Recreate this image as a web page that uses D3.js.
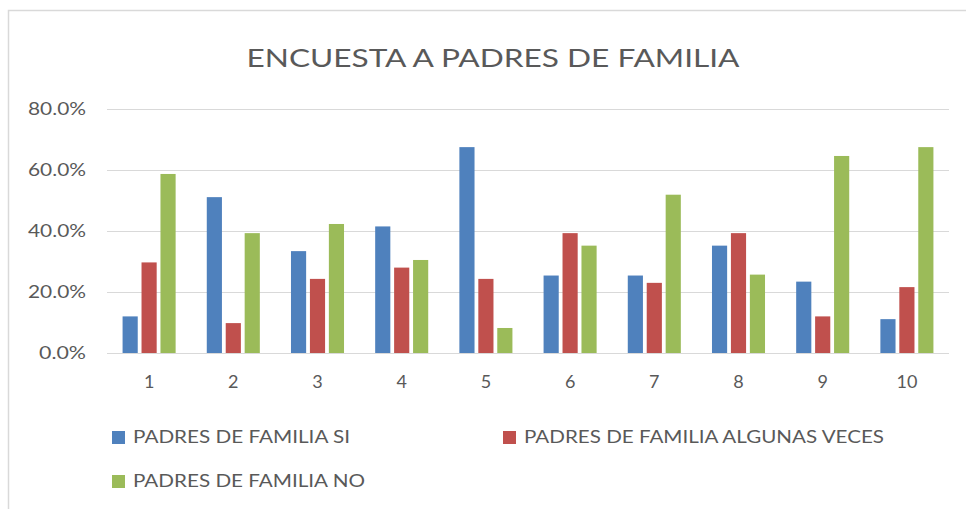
<!DOCTYPE html>
<html>
<head>
<meta charset="utf-8">
<script src="https://cdn.jsdelivr.net/npm/d3@7"></script>
<style>
  html, body { margin: 0; padding: 0; background: #fff; }
  svg { display: block; font-family: Lato, "Open Sans", sans-serif; }
</style>
</head>
<body>
<svg id="chart" width="966" height="509"></svg>
<script>
const categories = ["1", "2", "3", "4", "5", "6", "7", "8", "9", "10"];
const seriesNames = ["PADRES DE FAMILIA SI", "PADRES DE FAMILIA ALGUNAS VECES", "PADRES DE FAMILIA NO"];
const siValues      = [0.120, 0.511, 0.334, 0.415, 0.675, 0.254, 0.254, 0.352, 0.234, 0.111];
const algunasValues = [0.297, 0.098, 0.243, 0.280, 0.243, 0.393, 0.230, 0.393, 0.120, 0.216];
const noValues      = [0.587, 0.393, 0.423, 0.305, 0.082, 0.352, 0.519, 0.257, 0.646, 0.675];
const yTicks = [0, 0.2, 0.4, 0.6, 0.8];
const colors = ["#4F81BD", "#C0504D", "#9BBB59"];
const title = "ENCUESTA A PADRES DE FAMILIA";

const seriesValues = [siValues, algunasValues, noValues];
const svg = d3.select("#chart");

// chart frame
svg.append("rect")
  .attr("x", 8.5).attr("y", 10.5)
  .attr("width", 1000).attr("height", 600)
  .attr("fill", "none").attr("stroke", "#D9D9D9").attr("stroke-width", 1.5);

const plot = { left: 107, right: 949, top: 109, bottom: 353 };

const x = d3.scaleBand().domain(categories)
  .range([plot.left, plot.right]).paddingInner(0.37).paddingOuter(0.185);
const xs = d3.scaleBand().domain(d3.range(3))
  .range([0, x.bandwidth()]).paddingInner(0.2).paddingOuter(0);
const y = d3.scaleLinear().domain([0, 0.8]).range([plot.bottom, plot.top]);

// gridlines
svg.append("g").selectAll("line").data(yTicks).join("line")
  .attr("x1", plot.left).attr("x2", plot.right)
  .attr("y1", d => Math.round(y(d)) + 0.5).attr("y2", d => Math.round(y(d)) + 0.5)
  .attr("stroke", "#D9D9D9").attr("stroke-width", 1);

// y axis labels
const yAxis = d3.axisLeft(y).tickValues(yTicks).tickFormat(d3.format(".1%")).tickSize(0).tickPadding(0);
const gy = svg.append("g").attr("transform", `translate(${86},0)`).call(yAxis);
gy.select(".domain").remove();
gy.selectAll("text").attr("fill", "#595959").attr("font-size", 18)
  .attr("font-family", "Lato, sans-serif")
  .attr("textLength", d => d === 0 ? 47 : 58)
  .attr("lengthAdjust", "spacingAndGlyphs");

// bars
const groups = svg.append("g").selectAll("g").data(categories).join("g")
  .attr("transform", d => `translate(${x(d)},0)`);
groups.selectAll("rect").data((d, i) => seriesValues.map((vals, s) => ({ s, v: vals[i] })))
  .join("rect")
  .attr("x", d => xs(d.s))
  .attr("width", xs.bandwidth())
  .attr("y", d => y(d.v))
  .attr("height", d => y(0) - y(d.v))
  .attr("fill", d => colors[d.s]);

// x axis labels
const xAxis = d3.axisBottom(x).tickSize(0).tickPadding(0);
const gx = svg.append("g").attr("transform", `translate(0,${375})`).call(xAxis);
gx.select(".domain").remove();
gx.selectAll("text").attr("fill", "#595959").attr("font-size", 18)
  .attr("font-family", "Lato, sans-serif");

// title
svg.append("text")
  .attr("x", 493).attr("y", 67)
  .attr("text-anchor", "middle")
  .attr("fill", "#595959").attr("font-size", 25)
  .attr("textLength", 493).attr("lengthAdjust", "spacingAndGlyphs")
  .text(title);

// legend
const legendItems = [
  { s: 0, x: 112, y: 437, w: 217 },
  { s: 1, x: 503, y: 437, w: 360 },
  { s: 2, x: 112, y: 481, w: 232 }
];
const lg = svg.append("g").selectAll("g").data(legendItems).join("g")
  .attr("transform", d => `translate(${d.x},${d.y})`);
lg.append("rect").attr("x", 0).attr("y", -6).attr("width", 13).attr("height", 13)
  .attr("fill", d => colors[d.s]);
lg.append("text").attr("x", 21).attr("y", 0).attr("dy", "0.35em")
  .attr("fill", "#595959").attr("font-size", 17)
  .attr("textLength", d => d.w).attr("lengthAdjust", "spacingAndGlyphs")
  .text(d => seriesNames[d.s]);
</script>
</body>
</html>
